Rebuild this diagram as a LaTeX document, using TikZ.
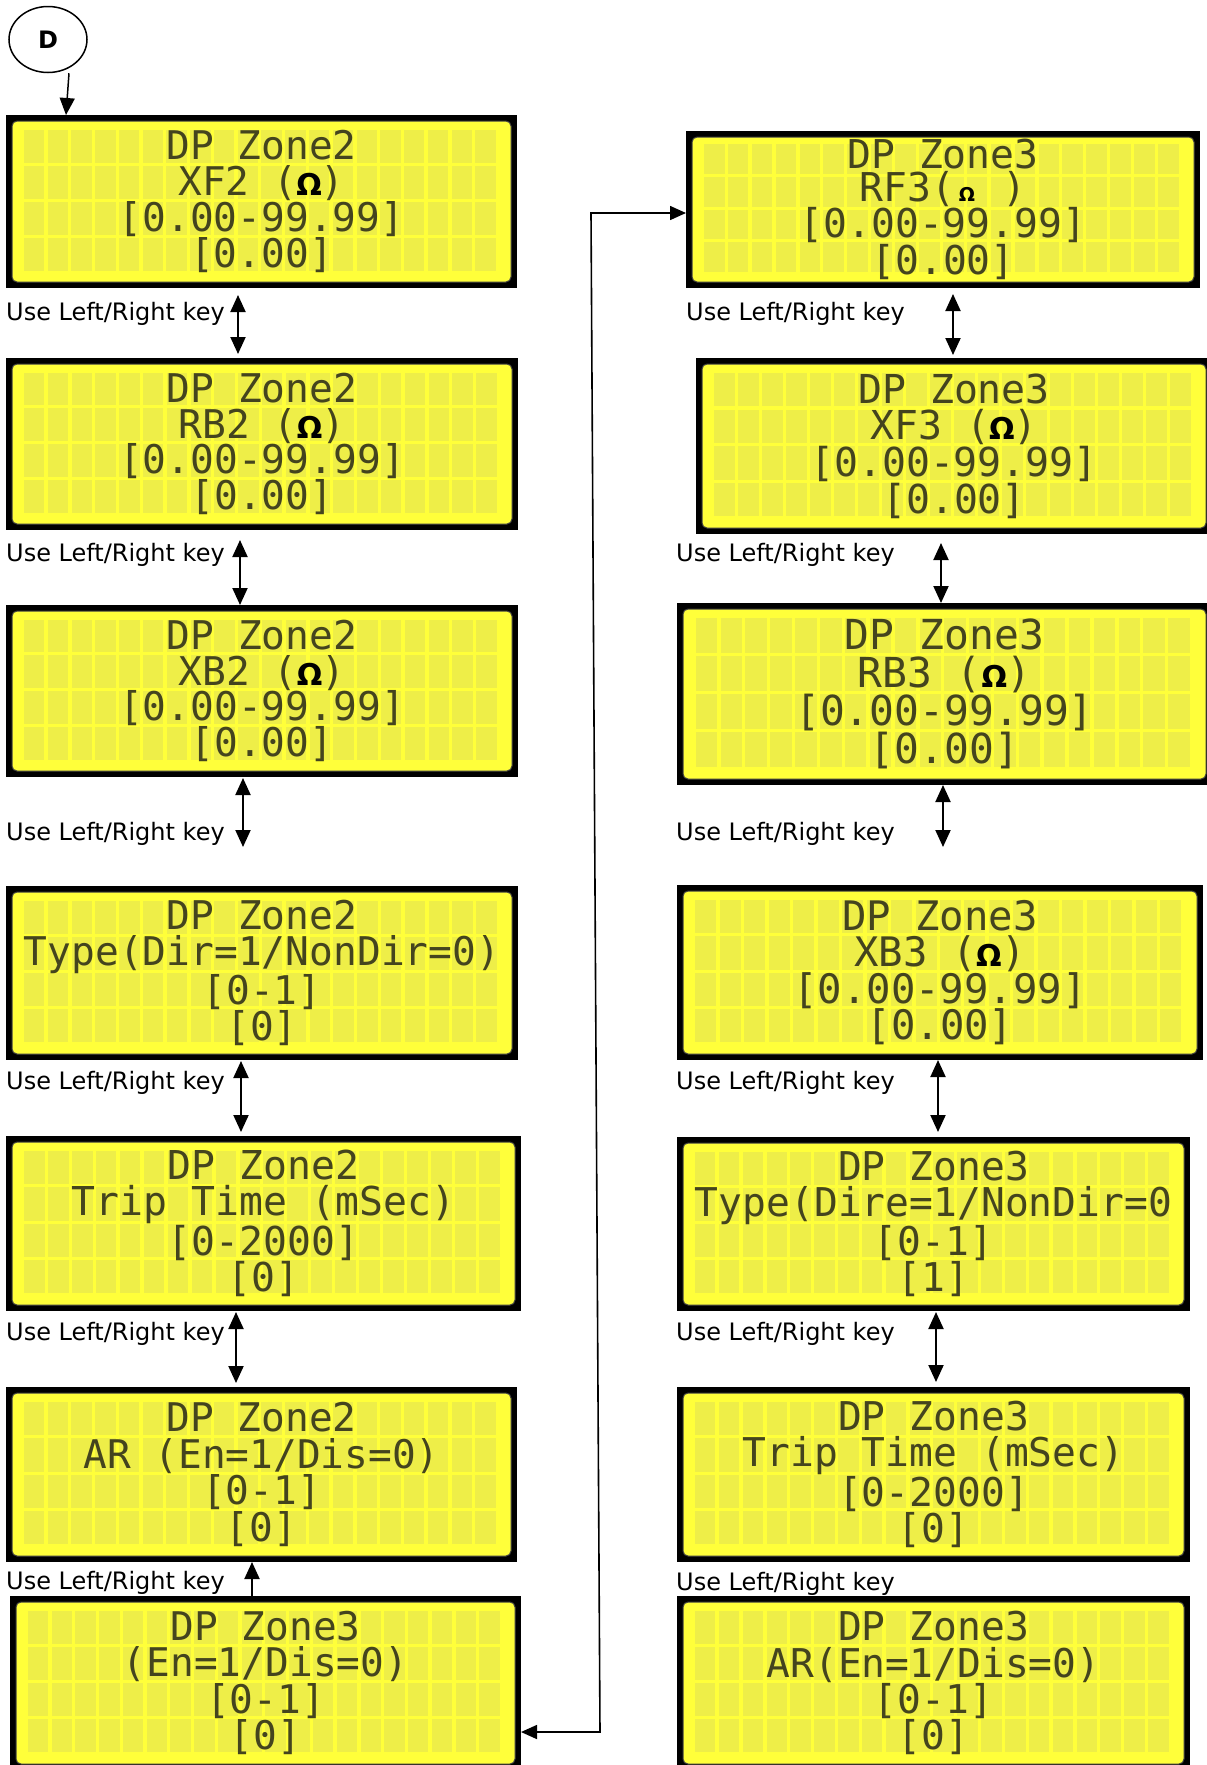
\documentclass[tikz,border=0pt]{standalone}
\usepackage{fontspec}
\setmainfont{DejaVu Sans}
\newfontfamily\lcdmono[WordSpace={1,0,0}]{DejaVu Sans Mono}
\usetikzlibrary{shapes.geometric,arrows.meta,calc}

\definecolor{lcdyellow}{RGB}{255,255,58}
\definecolor{lcdcell}{RGB}{238,238,72}
\definecolor{lcdink}{RGB}{68,68,30}

% ohm sign on the display, one cell wide
\newcommand\lcdohm{\makebox[0.6em]{\fontsize{30}{30}\normalfont\bfseries\color{black}Ω}}
\newcommand\lcdohmsmall{\makebox[0.6em]{\fontsize{19}{19}\normalfont\bfseries\color{black}Ω}}

\tikzset{
  lcd/.style 2 args={rectangle, fill=black, inner sep=0pt, outer sep=0pt,
    minimum width=#1pt, minimum height=#2pt, text=lcdink, align=center,
    font=\fontsize{\fpeval{0.0465*#1/0.602}}{\fpeval{0.208*#2}}\lcdmono,
    path picture={
      \fill[lcdyellow, draw=black!75, line width=1pt, rounded corners=5pt]
        ([shift={(6pt,6pt)}]path picture bounding box.south west) rectangle
        ([shift={(-6pt,-6pt)}]path picture bounding box.north east);
      \foreach \col in {0,...,19}{
        \foreach \row in {0,...,3}{
          \fill[lcdcell] let \p1=(path picture bounding box.south west),
            \p2=(path picture bounding box.north east) in
            ({\x1+(0.035+0.0465*\col)*(\x2-\x1)},{\y2-(0.085+0.208*\row)*(\y2-\y1)})
            rectangle +({0.04*(\x2-\x1)},{-0.19*(\y2-\y1)});
        }
      }
    }},
  keylabel/.style={anchor=west, inner sep=0pt, font=\fontsize{24}{28}\selectfont},
  keyarrow/.style={line width=2pt, {Triangle[length=17pt,width=15pt]}-{Triangle[length=17pt,width=15pt]}},
  keyarrowup/.style={line width=2pt, -{Triangle[length=17pt,width=15pt]}},
  link/.style={line width=1.6pt, {Triangle[length=16pt,width=14pt]}-{Triangle[length=16pt,width=14pt]}},
}

\begin{document}
\begin{tikzpicture}[x=1pt,y=-1pt]
    \useasboundingbox (0,0) rectangle (1207,1765);

    \node[ellipse, draw, line width=1.5pt, minimum width=78pt, minimum height=66pt,
      font=\fontsize{24}{24}\selectfont\bfseries] (D) at (48,39.5) {D};

    % zone 2 screens
    \node[lcd={511}{173}] (L1) at (261.5,201.5) {DP Zone2\\XF2 (\lcdohm)\\{}[0.00-99.99]\\{}[0.00]};
    \node[lcd={512}{172}] (L2) at (262,444) {DP Zone2\\RB2 (\lcdohm)\\{}[0.00-99.99]\\{}[0.00]};
    \node[lcd={512}{172}] (L3) at (262,691) {DP Zone2\\XB2 (\lcdohm)\\{}[0.00-99.99]\\{}[0.00]};
    \node[lcd={512}{174}] (L4) at (262,973) {DP Zone2\\Type(Dir=1/NonDir=0)\\{}[0-1]\\{}[0]};
    \node[lcd={515}{175}] (L5) at (263.5,1223.5) {DP Zone2\\Trip Time (mSec)\\{}[0-2000]\\{}[0]};
    \node[lcd={511}{175}] (L6) at (261.5,1474.5) {DP Zone2\\AR (En=1/Dis=0)\\{}[0-1]\\{}[0]};
    \node[lcd={511}{174}] (L7) at (265.5,1683) {DP Zone3\\(En=1/Dis=0)\\{}[0-1]\\{}[0]};

    % zone 3 screens
    \node[lcd={514}{157}] (R1) at (943,209.5) {DP Zone3\\RF3(\lcdohmsmall{} )\\{}[0.00-99.99]\\{}[0.00]};
    \node[lcd={516}{176}] (R2) at (954,446) {DP Zone3\\XF3 (\lcdohm)\\{}[0.00-99.99]\\{}[0.00]};
    \node[lcd={535}{182}] (R3) at (944.5,694) {DP Zone3\\RB3 (\lcdohm)\\{}[0.00-99.99]\\{}[0.00]};
    \node[lcd={526}{175}] (R4) at (940,972.5) {DP Zone3\\XB3 (\lcdohm)\\{}[0.00-99.99]\\{}[0.00]};
    \node[lcd={513}{174}] (R5) at (933.5,1224) {DP Zone3\\Type(Dire=1/NonDir=0\\{}[0-1]\\{}[1]};
    \node[lcd={513}{175}] (R6) at (933.5,1474.5) {DP Zone3\\Trip Time (mSec)\\{}[0-2000]\\{}[0]};
    \node[lcd={513}{174}] (R7) at (933.5,1683) {DP Zone3\\AR(En=1/Dis=0)\\{}[0-1]\\{}[0]};

    % key hints
    \node[keylabel] (kl1) at (6,314) {Use Left/Right key};
    \node[keylabel] (kl2) at (6,555) {Use Left/Right key};
    \node[keylabel] (kl3) at (6,834) {Use Left/Right key};
    \node[keylabel] (kl4) at (6,1083) {Use Left/Right key};
    \node[keylabel] (kl5) at (6,1334) {Use Left/Right key};
    \node[keylabel] (kl6) at (6,1583) {Use Left/Right key};
    \node[keylabel] (kr1) at (686,314) {Use Left/Right key};
    \node[keylabel] (kr2) at (676,555) {Use Left/Right key};
    \node[keylabel] (kr3) at (676,834) {Use Left/Right key};
    \node[keylabel] (kr4) at (676,1083) {Use Left/Right key};
    \node[keylabel] (kr5) at (676,1334) {Use Left/Right key};
    \node[keylabel] (kr6) at (676,1584) {Use Left/Right key};

    \draw[keyarrowup, line width=1.5pt] ([xshift=21pt]D.south) -- ([xshift=60pt]L1.north west);

    \draw[keyarrow] ([shift={(232pt,-7pt)}]L1.south west) -- ([shift={(232pt,4pt)}]L2.north west);
    \draw[keyarrow] ([shift={(234pt,-10pt)}]L2.south west) -- ([shift={(234pt,0pt)}]L3.north west);
    \draw[keyarrow] ([shift={(237pt,-1pt)}]L3.south west) -- ([shift={(237pt,39pt)}]L4.north west);
    \draw[keyarrow] ([shift={(235pt,-1pt)}]L4.south west) -- ([shift={(235pt,4pt)}]L5.north west);
    \draw[keyarrow] ([shift={(230pt,-1pt)}]L5.south west) -- ([shift={(230pt,4pt)}]L6.north west);
    \draw[keyarrowup] ([xshift=242pt]L7.north west) -- ([xshift=246pt]L6.south west);

    \draw[keyarrow] ([shift={(267pt,-6pt)}]R1.south west) -- ([shift={(257pt,3pt)}]R2.north west);
    \draw[keyarrow] ([shift={(245pt,-9pt)}]R2.south west) -- ([shift={(264pt,0pt)}]R3.north west);
    \draw[keyarrow] ([shift={(266pt,0pt)}]R3.south west) -- ([shift={(266pt,38pt)}]R4.north west);
    \draw[keyarrow] ([shift={(261pt,0pt)}]R4.south west) -- ([shift={(261pt,5pt)}]R5.north west);
    \draw[keyarrow] ([shift={(259pt,-1pt)}]R5.south west) -- ([shift={(259pt,5pt)}]R6.north west);

    % jump between the columns
    \coordinate (turnlow) at (600,1732);
    \coordinate (turnhigh) at (591,213);
    \draw[link] (turnlow -| L7.east) -- (turnlow) -- (turnhigh) -- (turnhigh -| R1.west);
\end{tikzpicture}
\end{document}
